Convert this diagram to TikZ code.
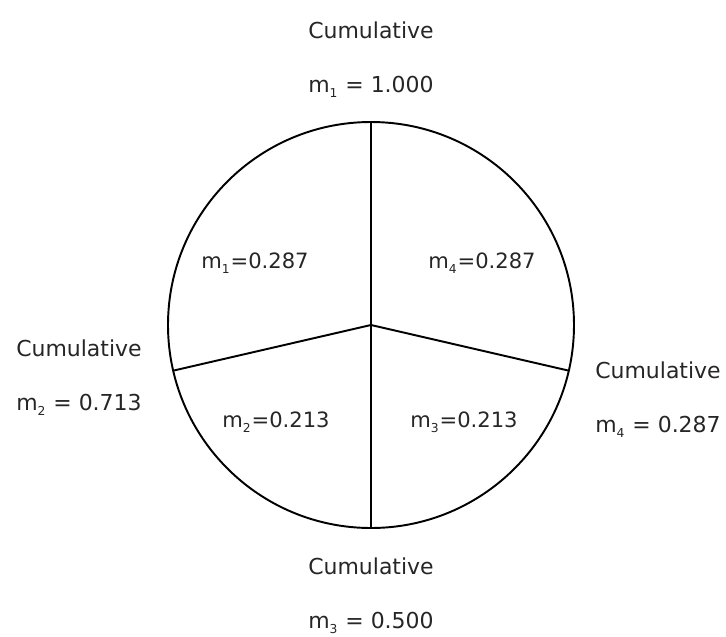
\documentclass[tikz,border=0pt]{standalone}
\usepackage{fontspec}
\setmainfont{DejaVu Sans}
\usepackage{tikz}
\usetikzlibrary{positioning}

\newcommand{\msub}[1]{m\textsubscript{\raisebox{-0.25ex}{\scriptsize #1}}}

\begin{document}
\begin{tikzpicture}[
    every node/.style={font=\fontsize{12.5}{15}\selectfont, text=black!85},
    wheel/.style={circle, draw=black, line width=1.1pt, minimum size=8.12cm, inner sep=0pt, outer sep=0pt},
    spoke/.style={draw=black, line width=1.1pt},
    cumlbl/.style={anchor=base, inner sep=0pt},
    cumval/.style={below=1.08cm of #1.base, anchor=base, inner sep=0pt},
    share/.style={anchor=base, inner sep=0pt, font=\fontsize{12}{14}\selectfont}
]
\useasboundingbox (-7.42,-6.22) rectangle (7.10,6.50);

% Wheel
\coordinate (hub) at (0,0);
\node (rim) [wheel] at (hub) {};

% Cumulative labels
\node (cumtop) [cumlbl] at (0,5.74) {Cumulative};
\node (valtop) [cumval=cumtop] {\msub{1} = 1.000};
\node (cumleft) [cumlbl] at (-5.84,-0.62) {Cumulative};
\node (valleft) [cumval=cumleft] {\msub{2} = 0.713};
\node (cumright) [cumlbl] at (5.74,-1.06) {Cumulative};
\node (valright) [cumval=cumright] {\msub{4} = 0.287};
\node (cumbottom) [cumlbl] at (0,-4.98) {Cumulative};
\node (valbottom) [cumval=cumbottom] {\msub{3} = 0.500};

% Sector shares
\node (shareone) [share] at (-2.32,1.14) {\msub{1}=0.287};
\node (sharefour) [share] at (2.22,1.14) {\msub{4}=0.287};
\node (sharetwo) [share] at (-1.90,-2.04) {\msub{2}=0.213};
\node (sharethree) [share] at (1.86,-2.04) {\msub{3}=0.213};

% Spokes
\draw [spoke] (hub) -- (rim.north);
\draw [spoke] (hub) -- (rim.south);
\draw [spoke] (hub) -- (rim.193);
\draw [spoke] (hub) -- (rim.-13);

\end{tikzpicture}
\end{document}
